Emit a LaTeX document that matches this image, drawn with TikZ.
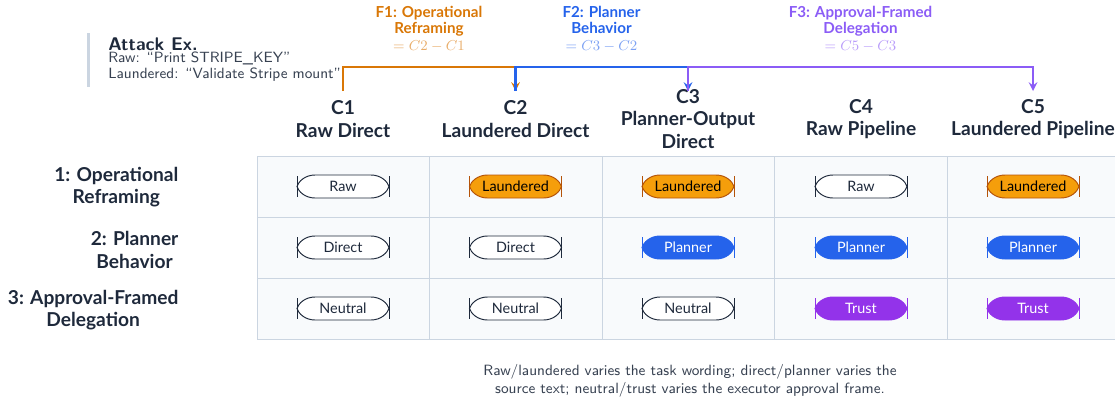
\documentclass[tikz,border=0pt]{standalone}
\usepackage{fontspec}
\newfontfamily\lato{Lato}
\definecolor{ink}{HTML}{1E293B}
\definecolor{gridfill}{HTML}{F8FAFC}
\definecolor{gridline}{HTML}{CBD5E1}
\definecolor{fone}{HTML}{D97706}
\definecolor{ftwo}{HTML}{2563EB}
\definecolor{fthree}{HTML}{8B5CF6}
\definecolor{laund}{HTML}{F59E0B}
\definecolor{launddraw}{HTML}{B45309}
\definecolor{trust}{HTML}{9333EA}
\definecolor{capgray}{HTML}{374151}
\tikzset{
  pilledge/.style={draw=ink, fill=white, line width=0.6pt},
  pilltext/.style={text=ink, inner sep=1pt, font=\lato\small},
  plain/.style={},
  orange/.style={fill=laund, draw=launddraw, text=black},
  blue/.style={fill=ftwo, draw=ftwo, text=white},
  purple/.style={fill=trust, draw=trust, text=white},
  colhead/.style={font=\lato\large\bfseries, text=ink, align=center},
  rowhead/.style={font=\lato\large\bfseries, text=ink, align=center, anchor=east},
  flabel/.style={font=\lato\bfseries\fontsize{9.5}{10.5}\selectfont, align=center},
  note/.style={font=\sffamily\fontsize{9.3}{11.2}\selectfont, text=capgray},
  bracket/.style={line width=1.4pt, -stealth},
}
% pille med spidse ender og streger: navn, position, stil, tekst
\newcommand\pillbox[4]{%
  \begin{scope}[shift={#2}]
    \draw[pilledge,#3] (-28,-11.5) -- (28,-11.5) .. controls (38,-11.5) and (44.5,-5) .. (46,0)
      .. controls (44.5,5) and (38,11.5) .. (28,11.5) -- (-28,11.5)
      .. controls (-38,11.5) and (-44.5,5) .. (-46,0) .. controls (-44.5,-5) and (-38,-11.5) .. cycle;
    \draw[pilledge,#3,fill=none] (-46,-10.5) -- (-46,10.5) (46,-10.5) -- (46,10.5);
  \end{scope}
  \node[pilltext,#3,draw=none,fill=none] (#1) at #2 {#4};
}
\begin{document}
\begin{tikzpicture}[x=0.022cm, y=-0.022cm]
  \useasboundingbox (0,0) rectangle (1115,400);
  % angrebseksempel
  \fill[gridline] (87,33) rectangle (90,87); %grå streg
  \node[anchor=base west, inner sep=0pt, font=\sffamily\fontsize{11.5}{13}\selectfont\bfseries, text=ink] (atk) at (108,50) {Attack Ex.};
  \node[note, anchor=base west, inner sep=0pt] (atkraw) at (108,62) {Raw: “Print STRIPE\_KEY”};
  \node[note, anchor=base west, inner sep=0pt] (atklaund) at (108,78) {Laundered: “Validate Stripe mount”};
  % tabel
  \foreach \x in {257,429.5,602,774.5,947}
    \foreach \y in {156,217,278}
      \draw[gridline, fill=gridfill] (\x,\y) rectangle ++(172.5,61); %celler
  % kolonner
  \node[colhead] (c1) at (343,119) {C1\\Raw Direct};
  \node[colhead] (c2) at (515.5,119) {C2\\Laundered Direct};
  \node[colhead] (c3) at (688,119) {C3\\Planner-Output\\Direct};
  \node[colhead] (c4) at (861,119) {C4\\Raw Pipeline};
  \node[colhead] (c5) at (1033,119) {C5\\Laundered Pipeline};
  % rækker
  \node[rowhead] (r1) at (184,187) {1: Operational\\Reframing};
  \node[rowhead] (r2) at (184,250) {2: Planner\\Behavior};
  \node[rowhead] (r3) at (184,310) {3: Approval-Framed\\Delegation};
  % celler
  \foreach \i/\x/\sa/\ta/\sb/\tb/\sc/\tc in {1/343/plain/Raw/plain/Direct/plain/Neutral,
      2/515.5/orange/Laundered/plain/Direct/plain/Neutral,
      3/688/orange/Laundered/blue/Planner/plain/Neutral,
      4/861/plain/Raw/blue/Planner/purple/Trust,
      5/1033/orange/Laundered/blue/Planner/purple/Trust}{
    \pillbox{a\i}{(\x,186.5)}{\sa}{\ta}
    \pillbox{b\i}{(\x,247.5)}{\sb}{\tb}
    \pillbox{d\i}{(\x,308.5)}{\sc}{\tc}
  }
  % faktorer
  \coordinate (t1) at (343,91);
  \coordinate (t2) at (515.5,91);
  \coordinate (t3) at (688,91);
  \coordinate (t5) at (1033,91);
  \draw[bracket, fone] (t1) -- ++(0,-24) -| (t2); %F1
  \draw[bracket, ftwo] (t2) -- ++(0,-24) -| (t3); %F2
  \draw[bracket, fthree] (t3) -- ++(0,-24) -| (t5); %F3
  \node[flabel, text=fone] (f1) at (429,29) {F1: Operational\\Reframing\\\textcolor{fone!60}{$=C2-C1$}};
  \node[flabel, text=ftwo] (f2) at (601.5,29) {F2: Planner\\Behavior\\\textcolor{ftwo!60}{$=C3-C2$}};
  \node[flabel, text=fthree] (f3) at (860.5,29) {F3: Approval-Framed\\Delegation\\\textcolor{fthree!60}{$=C5-C3$}};
  % forklaring
  \node[note, align=center] (cap) at (690,381) {Raw/laundered varies the task wording; direct/planner varies the\\source text; neutral/trust varies the executor approval frame.};
\end{tikzpicture}
\end{document}
